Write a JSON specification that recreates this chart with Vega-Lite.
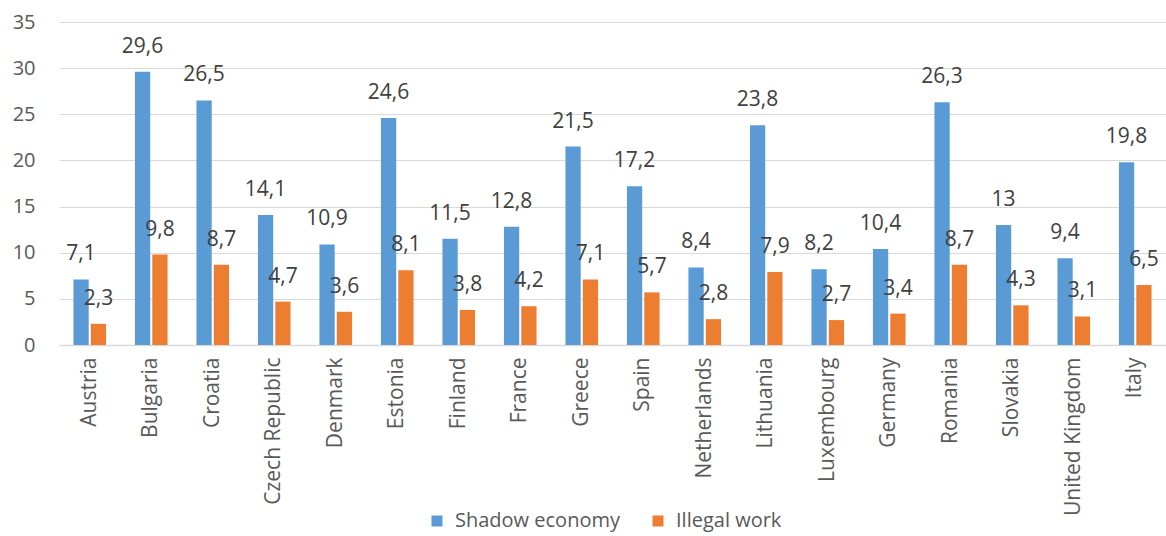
{
  "$schema": "https://vega.github.io/schema/vega-lite/v6.json",
  "autosize": "none",
  "width": 1107,
  "height": 323,
  "padding": {"left": 59, "top": 22, "right": 0, "bottom": 191},
  "background": "white",
  "config": {
    "view": {"stroke": null},
    "font": "Open Sans",
    "locale": {"number": {"decimal": ",", "thousands": ".", "grouping": [3], "currency": ["", " €"]}}
  },
  "data": {
    "values": [
      {"country": "Austria", "series": "Shadow economy", "value": 7.1},
      {"country": "Austria", "series": "Illegal work", "value": 2.3},
      {"country": "Bulgaria", "series": "Shadow economy", "value": 29.6},
      {"country": "Bulgaria", "series": "Illegal work", "value": 9.8},
      {"country": "Croatia", "series": "Shadow economy", "value": 26.5},
      {"country": "Croatia", "series": "Illegal work", "value": 8.7},
      {"country": "Czech Republic", "series": "Shadow economy", "value": 14.1},
      {"country": "Czech Republic", "series": "Illegal work", "value": 4.7},
      {"country": "Denmark", "series": "Shadow economy", "value": 10.9},
      {"country": "Denmark", "series": "Illegal work", "value": 3.6},
      {"country": "Estonia", "series": "Shadow economy", "value": 24.6},
      {"country": "Estonia", "series": "Illegal work", "value": 8.1},
      {"country": "Finland", "series": "Shadow economy", "value": 11.5},
      {"country": "Finland", "series": "Illegal work", "value": 3.8},
      {"country": "France", "series": "Shadow economy", "value": 12.8},
      {"country": "France", "series": "Illegal work", "value": 4.2},
      {"country": "Greece", "series": "Shadow economy", "value": 21.5},
      {"country": "Greece", "series": "Illegal work", "value": 7.1},
      {"country": "Spain", "series": "Shadow economy", "value": 17.2},
      {"country": "Spain", "series": "Illegal work", "value": 5.7},
      {"country": "Netherlands", "series": "Shadow economy", "value": 8.4},
      {"country": "Netherlands", "series": "Illegal work", "value": 2.8},
      {"country": "Lithuania", "series": "Shadow economy", "value": 23.8},
      {"country": "Lithuania", "series": "Illegal work", "value": 7.9},
      {"country": "Luxembourg", "series": "Shadow economy", "value": 8.2},
      {"country": "Luxembourg", "series": "Illegal work", "value": 2.7},
      {"country": "Germany", "series": "Shadow economy", "value": 10.4},
      {"country": "Germany", "series": "Illegal work", "value": 3.4},
      {"country": "Romania", "series": "Shadow economy", "value": 26.3},
      {"country": "Romania", "series": "Illegal work", "value": 8.7},
      {"country": "Slovakia", "series": "Shadow economy", "value": 13},
      {"country": "Slovakia", "series": "Illegal work", "value": 4.3},
      {"country": "United Kingdom", "series": "Shadow economy", "value": 9.4},
      {"country": "United Kingdom", "series": "Illegal work", "value": 3.1},
      {"country": "Italy", "series": "Shadow economy", "value": 19.8},
      {"country": "Italy", "series": "Illegal work", "value": 6.5}
    ]
  },
  "encoding": {
    "x": {
      "field": "country", "type": "nominal", "sort": null, "title": null,
      "scale": {"paddingInner": 0.47, "paddingOuter": 0.235},
      "axis": {
        "labelAngle": -90, "labelAlign": "right", "labelBaseline": "middle",
        "labelFontSize": 21, "labelColor": "#595959", "labelPadding": 12,
        "ticks": false, "domainColor": "#d9d9d9", "domainWidth": 1.5, "grid": false
      }
    },
    "xOffset": {
      "field": "series", "type": "nominal",
      "sort": ["Shadow economy", "Illegal work"],
      "scale": {"paddingInner": 0.12}
    },
    "y": {
      "field": "value", "type": "quantitative", "title": null,
      "scale": {"domain": [0, 35], "nice": false},
      "axis": {
        "values": [0, 5, 10, 15, 20, 25, 30, 35],
        "labelFontSize": 20, "labelColor": "#595959", "labelPadding": 24,
        "ticks": false, "domain": false, "gridColor": "#d9d9d9", "gridWidth": 1
      }
    }
  },
  "layer": [
    {
      "mark": {"type": "bar"},
      "encoding": {
        "color": {
          "field": "series", "type": "nominal",
          "sort": ["Shadow economy", "Illegal work"],
          "scale": {"domain": ["Shadow economy", "Illegal work"], "range": ["#5b9bd5", "#ed7d31"]},
          "legend": {
            "title": null, "orient": "none", "direction": "horizontal",
            "legendX": 368, "legendY": 489,
            "symbolType": "square", "symbolSize": 121, "symbolStrokeWidth": 0,
            "labelFontSize": 20, "labelColor": "#595959", "labelOffset": 8,
            "labelLimit": 400, "columnPadding": 28
          }
        }
      }
    },
    {
      "mark": {"type": "text", "baseline": "alphabetic", "dy": -19, "fontSize": 21, "color": "#404040"},
      "encoding": {
        "text": {"field": "value", "type": "quantitative", "format": "~r"}
      }
    }
  ]
}
